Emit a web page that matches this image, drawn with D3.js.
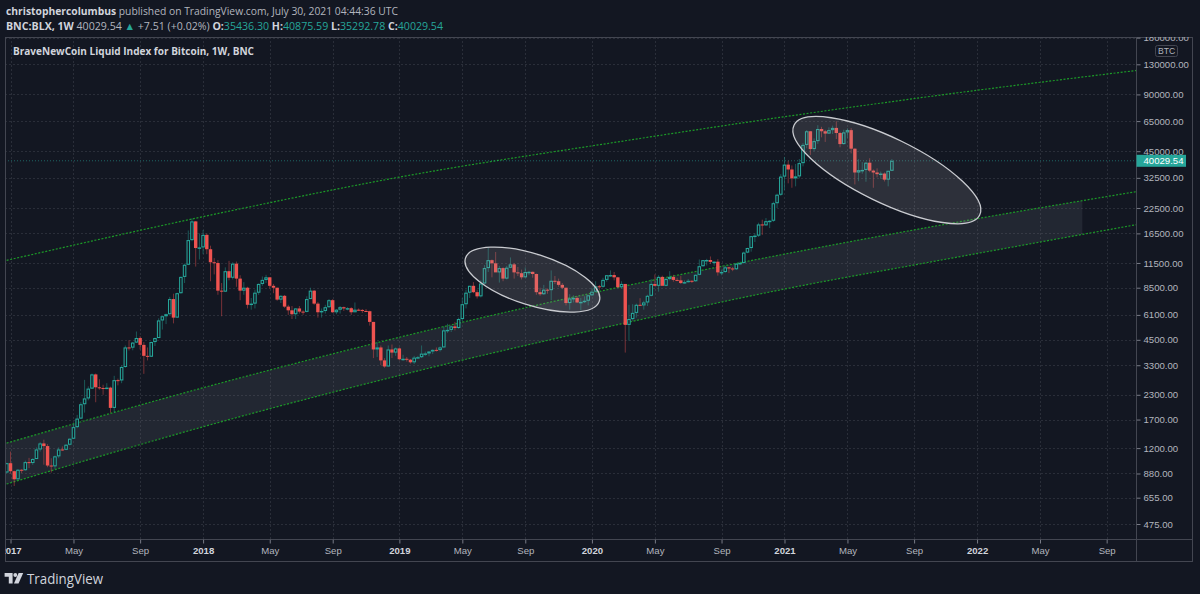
<!DOCTYPE html>
<html>
<head>
<meta charset="utf-8">
<title>BNC:BLX 1W</title>
<script src="https://cdn.jsdelivr.net/npm/d3@7/dist/d3.min.js"></script>
<style>
  html, body { margin: 0; padding: 0; background: #131722; }
  svg { display: block; }
  text { white-space: pre; }
</style>
</head>
<body>
<svg id="chart" width="1200" height="594"></svg>
<script>
// ---- data ----
// weekly bars, each block starts on its first Monday: [open, high, low, close]
const blockStarts = ["2016-12-26", "2017-01-02", "2018-01-01", "2019-01-07", "2020-01-06", "2021-01-04"];

const candles2016 = [[891, 1003, 880, 998]];

const candles2017 = [
  [998, 1150, 880, 905], [905, 910, 755, 820], [820, 930, 815, 921], [921, 928, 885, 916], [916, 1030, 910, 1011],
  [1011, 1065, 940, 1000], [1000, 1060, 978, 1050], [1050, 1210, 1050, 1180], [1180, 1290, 1150, 1270],
  [1270, 1330, 980, 1230], [1230, 1260, 950, 970], [970, 1060, 890, 960], [960, 1095, 930, 1085],
  [1085, 1210, 1060, 1180], [1180, 1225, 1160, 1175], [1175, 1260, 1170, 1250], [1250, 1350, 1240, 1345],
  [1345, 1620, 1340, 1550], [1550, 1800, 1530, 1720], [1720, 2100, 1710, 2050], [2050, 2760, 1850, 2200], [2200, 2550, 2150, 2480],
  [2480, 2980, 2470, 2950], [2950, 2980, 2100, 2520], [2520, 2780, 2450, 2500], [2500, 2600, 2300, 2480],
  [2480, 2650, 2460, 2510], [2510, 2540, 1850, 1960], [1960, 2900, 1850, 2750], [2750, 2800, 2580, 2740], [2740, 3290, 2650, 3230],
  [3230, 4200, 3200, 4100], [4100, 4480, 3950, 4090], [4090, 4380, 3960, 4350], [4350, 4980, 4330, 4600],
  [4600, 4700, 4000, 4230], [4230, 4380, 2970, 3700], [3700, 4100, 3500, 3660], [3660, 4400, 3660, 4380],
  [4380, 4620, 4170, 4600], [4600, 5850, 4600, 5700], [5700, 6000, 5100, 6000], [6000, 6200, 5450, 6150], [6150, 7600, 6120, 7400],
  [7400, 7900, 5500, 5900], [5900, 8000, 5900, 7950], [7950, 9750, 7900, 9700], [9700, 11400, 9000, 11250],
  [11250, 17100, 11200, 15200], [15200, 19800, 15000, 19100], [19100, 19200, 11000, 13800], [13800, 16500, 12000, 13900]
];

const candles2018 = [
  [13900, 17200, 12800, 16200], [16200, 16500, 12800, 13600], [13600, 14200, 9200, 11600], [11600, 12200, 10000, 11500], [11500, 11900, 7800, 8200],
  [8200, 9000, 6000, 8100], [8100, 10900, 8100, 10400], [10400, 11800, 9300, 9600], [9600, 11600, 9400, 11400],
  [11400, 11700, 8600, 9500], [9500, 9900, 7300, 8200], [8200, 9100, 7800, 8500], [8500, 8600, 6600, 6900],
  [6900, 7500, 6500, 7000], [7000, 8300, 6600, 8000], [8000, 8950, 7800, 8900], [8900, 9750, 8700, 9350], [9350, 9950, 9000, 9650],
  [9650, 9650, 8400, 8700], [8700, 8900, 7950, 8500], [8500, 8500, 7250, 7350], [7350, 7750, 7050, 7700],
  [7700, 7780, 6650, 6750], [6750, 6900, 6100, 6450], [6450, 6800, 5800, 6150], [6150, 6600, 5800, 6600],
  [6600, 6800, 6200, 6350], [6350, 6450, 6100, 6330], [6330, 7650, 6300, 7400], [7400, 8500, 7400, 8200], [8200, 8250, 6900, 7000],
  [7000, 7150, 5900, 6300], [6300, 6600, 5900, 6400], [6400, 6900, 6200, 6700], [6700, 7400, 6650, 7300],
  [7300, 7400, 6250, 6300], [6300, 6550, 6150, 6500], [6500, 6800, 6200, 6700], [6700, 6750, 6400, 6600],
  [6600, 6700, 6450, 6620], [6620, 6700, 6100, 6300], [6300, 7100, 6300, 6500], [6500, 6600, 6400, 6480], [6480, 6550, 6250, 6400],
  [6400, 6550, 6350, 6380], [6380, 6420, 5350, 5600], [5600, 5600, 3600, 4000], [4000, 4400, 3650, 4100],
  [4100, 4200, 3300, 3500], [3500, 3600, 3200, 3250], [3250, 4200, 3250, 4000], [4000, 4250, 3600, 3850], [3850, 4100, 3700, 4050]
];

const candles2019 = [
  [4050, 4100, 3500, 3550], [3550, 3750, 3480, 3570], [3570, 3650, 3450, 3530], [3530, 3560, 3370, 3420],
  [3420, 3700, 3350, 3620], [3620, 3700, 3560, 3640], [3640, 4200, 3600, 3800], [3800, 3900, 3700, 3810],
  [3810, 3920, 3680, 3900], [3900, 4000, 3780, 3980], [3980, 4100, 3900, 3970], [3970, 4150, 3900, 4100],
  [4100, 5300, 4100, 5050], [5050, 5470, 4900, 5080], [5080, 5350, 4950, 5300], [5300, 5600, 5050, 5200], [5200, 5900, 5150, 5800],
  [5800, 7500, 5650, 6950], [6950, 8300, 6600, 8000], [8000, 8700, 7500, 8700], [8700, 9100, 7950, 8050],
  [8050, 8300, 7450, 7650], [7650, 9300, 7550, 8950], [8950, 11200, 8950, 10800], [10800, 13800, 10300, 11900],
  [11900, 12000, 9650, 11450], [11450, 13150, 10800, 10250], [10250, 11100, 9050, 10800], [10800, 10900, 9200, 9500], [9500, 11100, 9400, 10850],
  [10850, 12300, 10800, 11300], [11300, 11500, 9500, 10250], [10250, 10950, 9800, 10150], [10150, 10600, 9400, 9650],
  [9650, 10900, 9650, 10300], [10300, 10450, 9900, 10320], [10320, 10350, 9600, 10050], [10050, 10100, 7800, 8050], [8050, 8500, 7700, 7850],
  [7850, 8800, 7800, 8300], [8300, 8420, 7900, 8250], [8250, 10500, 7300, 9250], [9250, 9800, 8900, 9200],
  [9200, 9500, 8600, 8800], [8800, 9000, 8350, 8500], [8500, 8500, 6850, 7050], [7050, 7850, 6500, 7450],
  [7450, 7750, 7100, 7500], [7500, 7650, 7050, 7100], [7100, 7500, 6450, 7150], [7150, 7650, 7050, 7250], [7250, 7600, 6850, 7750]
];

const candles2020 = [
  [7750, 8500, 7700, 8100], [8100, 9200, 8050, 8650], [8650, 8800, 8250, 8600], [8600, 9600, 8500, 9350],
  [9350, 9900, 9150, 9900], [9900, 10500, 9700, 9920], [9920, 10300, 9300, 9650], [9650, 9700, 8500, 8550],
  [8550, 9200, 8400, 8900], [8900, 8900, 3850, 5400], [5400, 6900, 4450, 5800], [5800, 6950, 5700, 6250], [6250, 7000, 5900, 6900],
  [6900, 7480, 6800, 6850], [6850, 7250, 6500, 7100], [7100, 7800, 6800, 7700], [7700, 9450, 7650, 8900],
  [8900, 10000, 8650, 8700], [8700, 9900, 8100, 9700], [9700, 9850, 8800, 8700], [8700, 9600, 8650, 9450],
  [9450, 10400, 9300, 9700], [9700, 9950, 9150, 9350], [9350, 9600, 9200, 9300], [9300, 9800, 8900, 9000], [9000, 9300, 8950, 9100],
  [9100, 9450, 9050, 9250], [9250, 9300, 9000, 9200], [9200, 10000, 9150, 9950], [9950, 12000, 9900, 11050],
  [11050, 11900, 11000, 11900], [11900, 12100, 11150, 11920], [11920, 12450, 11350, 11650], [11650, 11750, 11100, 11680], [11680, 12050, 9850, 10250],
  [10250, 10600, 9900, 10300], [10300, 11100, 10200, 10900], [10900, 10950, 10150, 10750], [10750, 10950, 10400, 10650],
  [10650, 11500, 10550, 11400], [11400, 11700, 11200, 11500], [11500, 13200, 11400, 13050], [13050, 13850, 12950, 13800],
  [13800, 15950, 13200, 15950], [15950, 16500, 14850, 16050], [16050, 18800, 15800, 18400], [18400, 19500, 16200, 18200], [18200, 19900, 18100, 19150],
  [19150, 19400, 17600, 19250], [19250, 24300, 19000, 23850], [23850, 26800, 22500, 26450], [26450, 34000, 26100, 33000]
];

const candles2021 = [
  [33000, 41950, 28000, 38200], [38200, 40100, 30400, 36000], [36000, 37800, 28800, 32300], [32300, 38500, 29300, 33100],
  [33100, 40900, 32300, 38900], [38900, 49700, 37400, 48600], [48600, 58300, 46600, 57400], [57400, 57500, 43000, 46200],
  [46200, 52600, 45000, 50900], [50900, 61800, 49200, 59000], [59000, 60600, 53300, 57400], [57400, 58400, 50400, 55800], [55800, 60200, 55500, 58200],
  [58200, 61500, 55500, 59800], [59800, 64900, 52200, 56200], [56200, 57000, 47200, 49100], [49100, 58500, 48800, 56600],
  [56600, 59500, 53000, 58200], [58200, 59600, 43800, 46400], [46400, 46600, 30000, 34700], [34700, 40800, 31200, 35700], [35700, 39400, 34200, 35800],
  [35800, 39500, 31000, 39100], [39100, 41300, 34800, 35500], [35500, 36000, 28800, 34700], [34700, 36500, 32700, 34000],
  [34000, 35100, 32100, 34250], [34250, 34700, 31100, 31800], [31800, 35450, 29300, 35436.30], [35436.30, 40875.59, 35292.78, 40029.54]
];

const candleBlocks = [candles2016, candles2017, candles2018, candles2019, candles2020, candles2021];

// price axis labels (log scale) and time axis labels (first weekly bar of the month)
const priceTicks = [180000, 130000, 90000, 65000, 45000, 32500, 22500, 16500, 11500, 8500, 6100, 4500, 3300, 2300, 1700, 1200, 880, 655, 475];
const timeTickDates = ["2017-01-02", "2017-05-01", "2017-09-04", "2018-01-01", "2018-05-07", "2018-09-03",
  "2019-01-07", "2019-05-06", "2019-09-02", "2020-01-06", "2020-05-04", "2020-09-07",
  "2021-01-04", "2021-05-03", "2021-09-06", "2022-01-03", "2022-05-02", "2022-09-05"];
const timeTickLabels = ["2017", "May", "Sep", "2018", "May", "Sep", "2019", "May", "Sep", "2020", "May", "Sep",
  "2021", "May", "Sep", "2022", "May", "Sep"];

// drawn trend lines (anchor points) and the shaded band end
const trendDates = ["2016-12-19", "2018-02-02", "2019-01-08", "2020-02-28", "2021-01-14", "2021-10-06", "2022-11-07"];
const upperLine = [11760, 21140, 32830, 50620, 69200, 87800, 121200];
const middleLine = [1260, 2650, 4650, 8570, 12970, 17830, 27680];
const lowerLine = [764, 1648, 2918, 5450, 8470, 11620, 18500];
const bandEndDate = "2022-07-21";

// ellipse drawings: major axis end points [date, price]
const ellipseEnds = [
  [["2019-05-12", 12200], ["2020-01-20", 7220]],
  [["2021-01-22", 61800], ["2022-01-08", 20640]]
];

const headerAuthor = "christophercolumbus";
const headerPublished = " published on TradingView.com, July 30, 2021 04:44:36 UTC";
const symbolLabel = "BNC:BLX, 1W";
const priceChange = "+7.51 (+0.02%)";
const paneTitle = "BraveNewCoin Liquid Index for Bitcoin, 1W, BNC";
const currencyLabel = "BTC";

// ---- layout ----
const plot = { left: 5, top: 37, right: 1136.5, bottom: 539.5 };
const frame = { right: 1193, bottom: 562 };
const colors = {
  bg: "#131722", up: "#26a69a", down: "#ef5350", grid: "#2a2e39", border: "#434651",
  text: "#b2b5be", strong: "#d1d4dc", trend: "#1c9a28"
};

const parseDay = d3.utcParse("%Y-%m-%d");
const fmt2 = d3.format(".2f");

const candles = [];
candleBlocks.forEach((block, b) => {
  const start = parseDay(blockStarts[b]);
  block.forEach((c, i) => {
    candles.push({ date: d3.utcDay.offset(start, 7 * i), open: c[0], high: c[1], low: c[2], close: c[3] });
  });
});
const last = candles[candles.length - 1];

const x = d3.scaleUtc()
  .domain([parseDay("2017-01-01"), parseDay("2022-01-01")])
  .range([10, 976]);
const y = d3.scaleLog()
  .domain([475, 130000])
  .range([524, 64.3]);

const svg = d3.select("#chart");
const defs = svg.append("defs");

defs.append("clipPath").attr("id", "plot-clip").append("rect")
  .attr("x", plot.left).attr("y", plot.top)
  .attr("width", plot.right - plot.left).attr("height", plot.bottom - plot.top);
defs.append("clipPath").attr("id", "band-clip").append("rect")
  .attr("x", plot.left).attr("y", plot.top)
  .attr("width", x(parseDay(bandEndDate)) - plot.left).attr("height", plot.bottom - plot.top);
defs.append("clipPath").attr("id", "price-axis-clip").append("rect")
  .attr("x", plot.right).attr("y", plot.top)
  .attr("width", frame.right - plot.right).attr("height", plot.bottom - plot.top);
defs.append("clipPath").attr("id", "time-axis-clip").append("rect")
  .attr("x", plot.left).attr("y", plot.bottom)
  .attr("width", plot.right - plot.left).attr("height", frame.bottom - plot.bottom);

svg.append("rect").attr("width", 1200).attr("height", 594).attr("fill", colors.bg);

// ---- header ----
const header = svg.append("g")
  .attr("font-family", "'Open Sans', 'Noto Sans', sans-serif")
  .attr("font-size", 10.6);

const line1 = header.append("text").attr("x", 6).attr("y", 14.5)
  .attr("textLength", 392).attr("lengthAdjust", "spacingAndGlyphs");
line1.append("tspan").attr("font-weight", 700).attr("fill", colors.strong).text(headerAuthor);
line1.append("tspan").attr("fill", colors.text).text(headerPublished);

const line2Parts = [
  [symbolLabel, 700, colors.strong],
  [" " + fmt2(last.close) + " ", 400, colors.text],
  ["\u25B2", 400, colors.up],
  [" " + priceChange + " ", 400, colors.text],
  ["O:", 700, colors.strong], [fmt2(last.open), 400, colors.up],
  [" H:", 700, colors.strong], [fmt2(last.high), 400, colors.up],
  [" L:", 700, colors.strong], [fmt2(last.low), 400, colors.up],
  [" C:", 700, colors.strong], [fmt2(last.close), 400, colors.up]
];
const line2 = header.append("text").attr("x", 6).attr("y", 29.5)
  .attr("textLength", 437).attr("lengthAdjust", "spacingAndGlyphs");
line2Parts.forEach(p => {
  line2.append("tspan").attr("font-weight", p[1]).attr("fill", p[2]).text(p[0]);
});

// ---- grid ----
const plotG = svg.append("g").attr("clip-path", "url(#plot-clip)");
const grid = plotG.append("g")
  .attr("stroke", colors.grid).attr("stroke-width", 1).attr("stroke-dasharray", "2,2");
grid.selectAll("line.h").data(priceTicks).join("line")
  .attr("x1", plot.left).attr("x2", plot.right)
  .attr("y1", d => Math.round(y(d)) + 0.5).attr("y2", d => Math.round(y(d)) + 0.5);
grid.selectAll("line.v").data(timeTickDates).join("line")
  .attr("x1", d => Math.round(x(parseDay(d))) + 0.5).attr("x2", d => Math.round(x(parseDay(d))) + 0.5)
  .attr("y1", plot.top).attr("y2", plot.bottom);

// ---- channel band and trend lines ----
const trendRows = trendDates.map((d, i) => ({
  date: parseDay(d), upper: upperLine[i], middle: middleLine[i], lower: lowerLine[i]
}));

plotG.append("path")
  .datum(trendRows)
  .attr("clip-path", "url(#band-clip)")
  .attr("fill", "rgba(120, 123, 134, 0.16)")
  .attr("d", d3.area()
    .x(d => x(d.date))
    .y0(d => y(d.lower))
    .y1(d => y(d.middle))
    .curve(d3.curveMonotoneX));

["upper", "middle", "lower"].forEach(key => {
  plotG.append("path")
    .datum(trendRows)
    .attr("fill", "none")
    .attr("stroke", colors.trend)
    .attr("stroke-width", 1.2)
    .attr("stroke-dasharray", "2,1.6")
    .attr("d", d3.line()
      .x(d => x(d.date))
      .y(d => y(d[key]))
      .curve(d3.curveMonotoneX));
});

// last price line
plotG.append("line")
  .attr("x1", plot.left).attr("x2", plot.right)
  .attr("y1", y(last.close)).attr("y2", y(last.close))
  .attr("stroke", colors.up).attr("stroke-opacity", 0.55)
  .attr("stroke-dasharray", "1,2");

// ---- candles ----
const candleG = plotG.append("g");
candleG.selectAll("line.wick").data(candles).join("line")
  .attr("class", "wick")
  .attr("x1", d => x(d.date)).attr("x2", d => x(d.date))
  .attr("y1", d => y(d.high)).attr("y2", d => y(d.low))
  .attr("stroke", d => d.close >= d.open ? colors.up : colors.down)
  .attr("stroke-opacity", 0.45)
  .attr("stroke-width", 1);

candleG.selectAll("rect.body").data(candles).join("rect")
  .attr("class", "body")
  .each(function (d) {
    const cx = x(d.date);
    const sel = d3.select(this);
    if (d.close >= d.open) {
      const top = y(d.close), bot = y(d.open);
      sel.attr("x", cx - 1.25).attr("width", 2.5)
        .attr("y", top + 0.5).attr("height", Math.max(bot - top - 1, 0.4))
        .attr("fill", colors.bg).attr("stroke", colors.up).attr("stroke-width", 1.05);
    } else {
      const top = y(d.open), bot = y(d.close);
      sel.attr("x", cx - 1.7).attr("width", 3.4)
        .attr("y", top).attr("height", Math.max(bot - top, 1))
        .attr("fill", colors.down);
    }
  });

// ---- ellipse drawings ----
ellipseEnds.forEach((ends, i) => {
  const p1 = [x(parseDay(ends[0][0])), y(ends[0][1])];
  const p2 = [x(parseDay(ends[1][0])), y(ends[1][1])];
  const cx = (p1[0] + p2[0]) / 2, cy = (p1[1] + p2[1]) / 2;
  const rx = Math.hypot(p2[0] - p1[0], p2[1] - p1[1]) / 2;
  const angle = Math.atan2(p2[1] - p1[1], p2[0] - p1[0]) * 180 / Math.PI;
  const ry = i === 0 ? 25.6 : 32.4;
  plotG.append("ellipse")
    .attr("cx", cx).attr("cy", cy).attr("rx", rx).attr("ry", ry)
    .attr("transform", `rotate(${angle} ${cx} ${cy})`)
    .attr("fill", "rgba(165, 165, 170, 0.18)")
    .attr("stroke", "#c9cbd0").attr("stroke-width", 1.3);
});

// pane title
svg.append("text")
  .attr("x", 13).attr("y", 55)
  .attr("font-family", "'Open Sans', 'Noto Sans', sans-serif")
  .attr("font-size", 10.6).attr("font-weight", 700)
  .attr("fill", colors.strong)
  .attr("textLength", 241).attr("lengthAdjust", "spacingAndGlyphs")
  .text(paneTitle);

// ---- frame ----
const frameG = svg.append("g").attr("fill", "none").attr("stroke", colors.border).attr("stroke-width", 1);
frameG.append("rect")
  .attr("x", plot.left + 0.5).attr("y", plot.top + 0.5)
  .attr("width", frame.right - plot.left - 1).attr("height", frame.bottom - plot.top - 1);
frameG.append("line").attr("x1", plot.right).attr("x2", plot.right).attr("y1", plot.top).attr("y2", frame.bottom);
frameG.append("line").attr("x1", plot.left).attr("x2", frame.right).attr("y1", plot.bottom).attr("y2", plot.bottom);

// ---- price axis ----
const priceAxisG = svg.append("g").attr("clip-path", "url(#price-axis-clip)")
  .append("g")
  .attr("transform", `translate(${plot.right},0)`)
  .call(d3.axisRight(y).tickValues(priceTicks).tickFormat(fmt2).tickSize(4).tickPadding(3));
priceAxisG.select(".domain").remove();
priceAxisG.attr("font-family", "'Liberation Sans', Arial, sans-serif").attr("font-size", 9.6).attr("color", colors.text);
priceAxisG.selectAll(".tick line").attr("stroke", "#787b86");

// currency badge
svg.append("rect")
  .attr("x", 1155.5).attr("y", 45.5).attr("width", 22).attr("height", 11).attr("rx", 2)
  .attr("fill", colors.bg).attr("stroke", colors.border);
svg.append("text")
  .attr("x", 1166.5).attr("y", 51).attr("dy", "0.35em").attr("text-anchor", "middle")
  .attr("font-family", "'Liberation Sans', Arial, sans-serif").attr("font-size", 8.6)
  .attr("fill", colors.text).text(currencyLabel);

// last price badge
svg.append("rect")
  .attr("x", plot.right).attr("y", y(last.close) - 6).attr("width", 49.5).attr("height", 12)
  .attr("fill", colors.up);
svg.append("text")
  .attr("x", plot.right + 7).attr("y", y(last.close)).attr("dy", "0.35em")
  .attr("font-family", "'Liberation Sans', Arial, sans-serif").attr("font-size", 9.6)
  .attr("fill", "#ffffff").text(fmt2(last.close));

// ---- time axis ----
const timeAxisG = svg.append("g").attr("clip-path", "url(#time-axis-clip)")
  .append("g")
  .attr("transform", `translate(0,${plot.bottom})`)
  .call(d3.axisBottom(x)
    .tickValues(timeTickDates.map(parseDay))
    .tickFormat((d, i) => timeTickLabels[i])
    .tickSize(4).tickPadding(4));
timeAxisG.select(".domain").remove();
timeAxisG.attr("font-family", "'Liberation Sans', Arial, sans-serif").attr("font-size", 9.6).attr("color", colors.text);
timeAxisG.selectAll(".tick line").attr("stroke", "#787b86");
timeAxisG.selectAll(".tick text")
  .attr("font-weight", (d, i) => /^\d{4}$/.test(timeTickLabels[i]) ? 700 : 400)
  .attr("fill", (d, i) => /^\d{4}$/.test(timeTickLabels[i]) ? colors.strong : colors.text);

// ---- TradingView logo ----
const logo = svg.append("g").attr("fill", colors.strong);
logo.append("path").attr("d", "M4.6,573 h8 v10.5 h-3.8 v-6.8 h-4.2 z");
logo.append("circle").attr("cx", 15.3).attr("cy", 575).attr("r", 1.9);
logo.append("path").attr("d", "M18.6,573 h4.6 l-4.7,10.5 h-4.5 z");
logo.append("text")
  .attr("x", 27).attr("y", 583.5)
  .attr("font-family", "'Open Sans', 'Noto Sans', sans-serif")
  .attr("font-size", 15)
  .attr("textLength", 76).attr("lengthAdjust", "spacingAndGlyphs")
  .text("TradingView");
</script>
</body>
</html>
